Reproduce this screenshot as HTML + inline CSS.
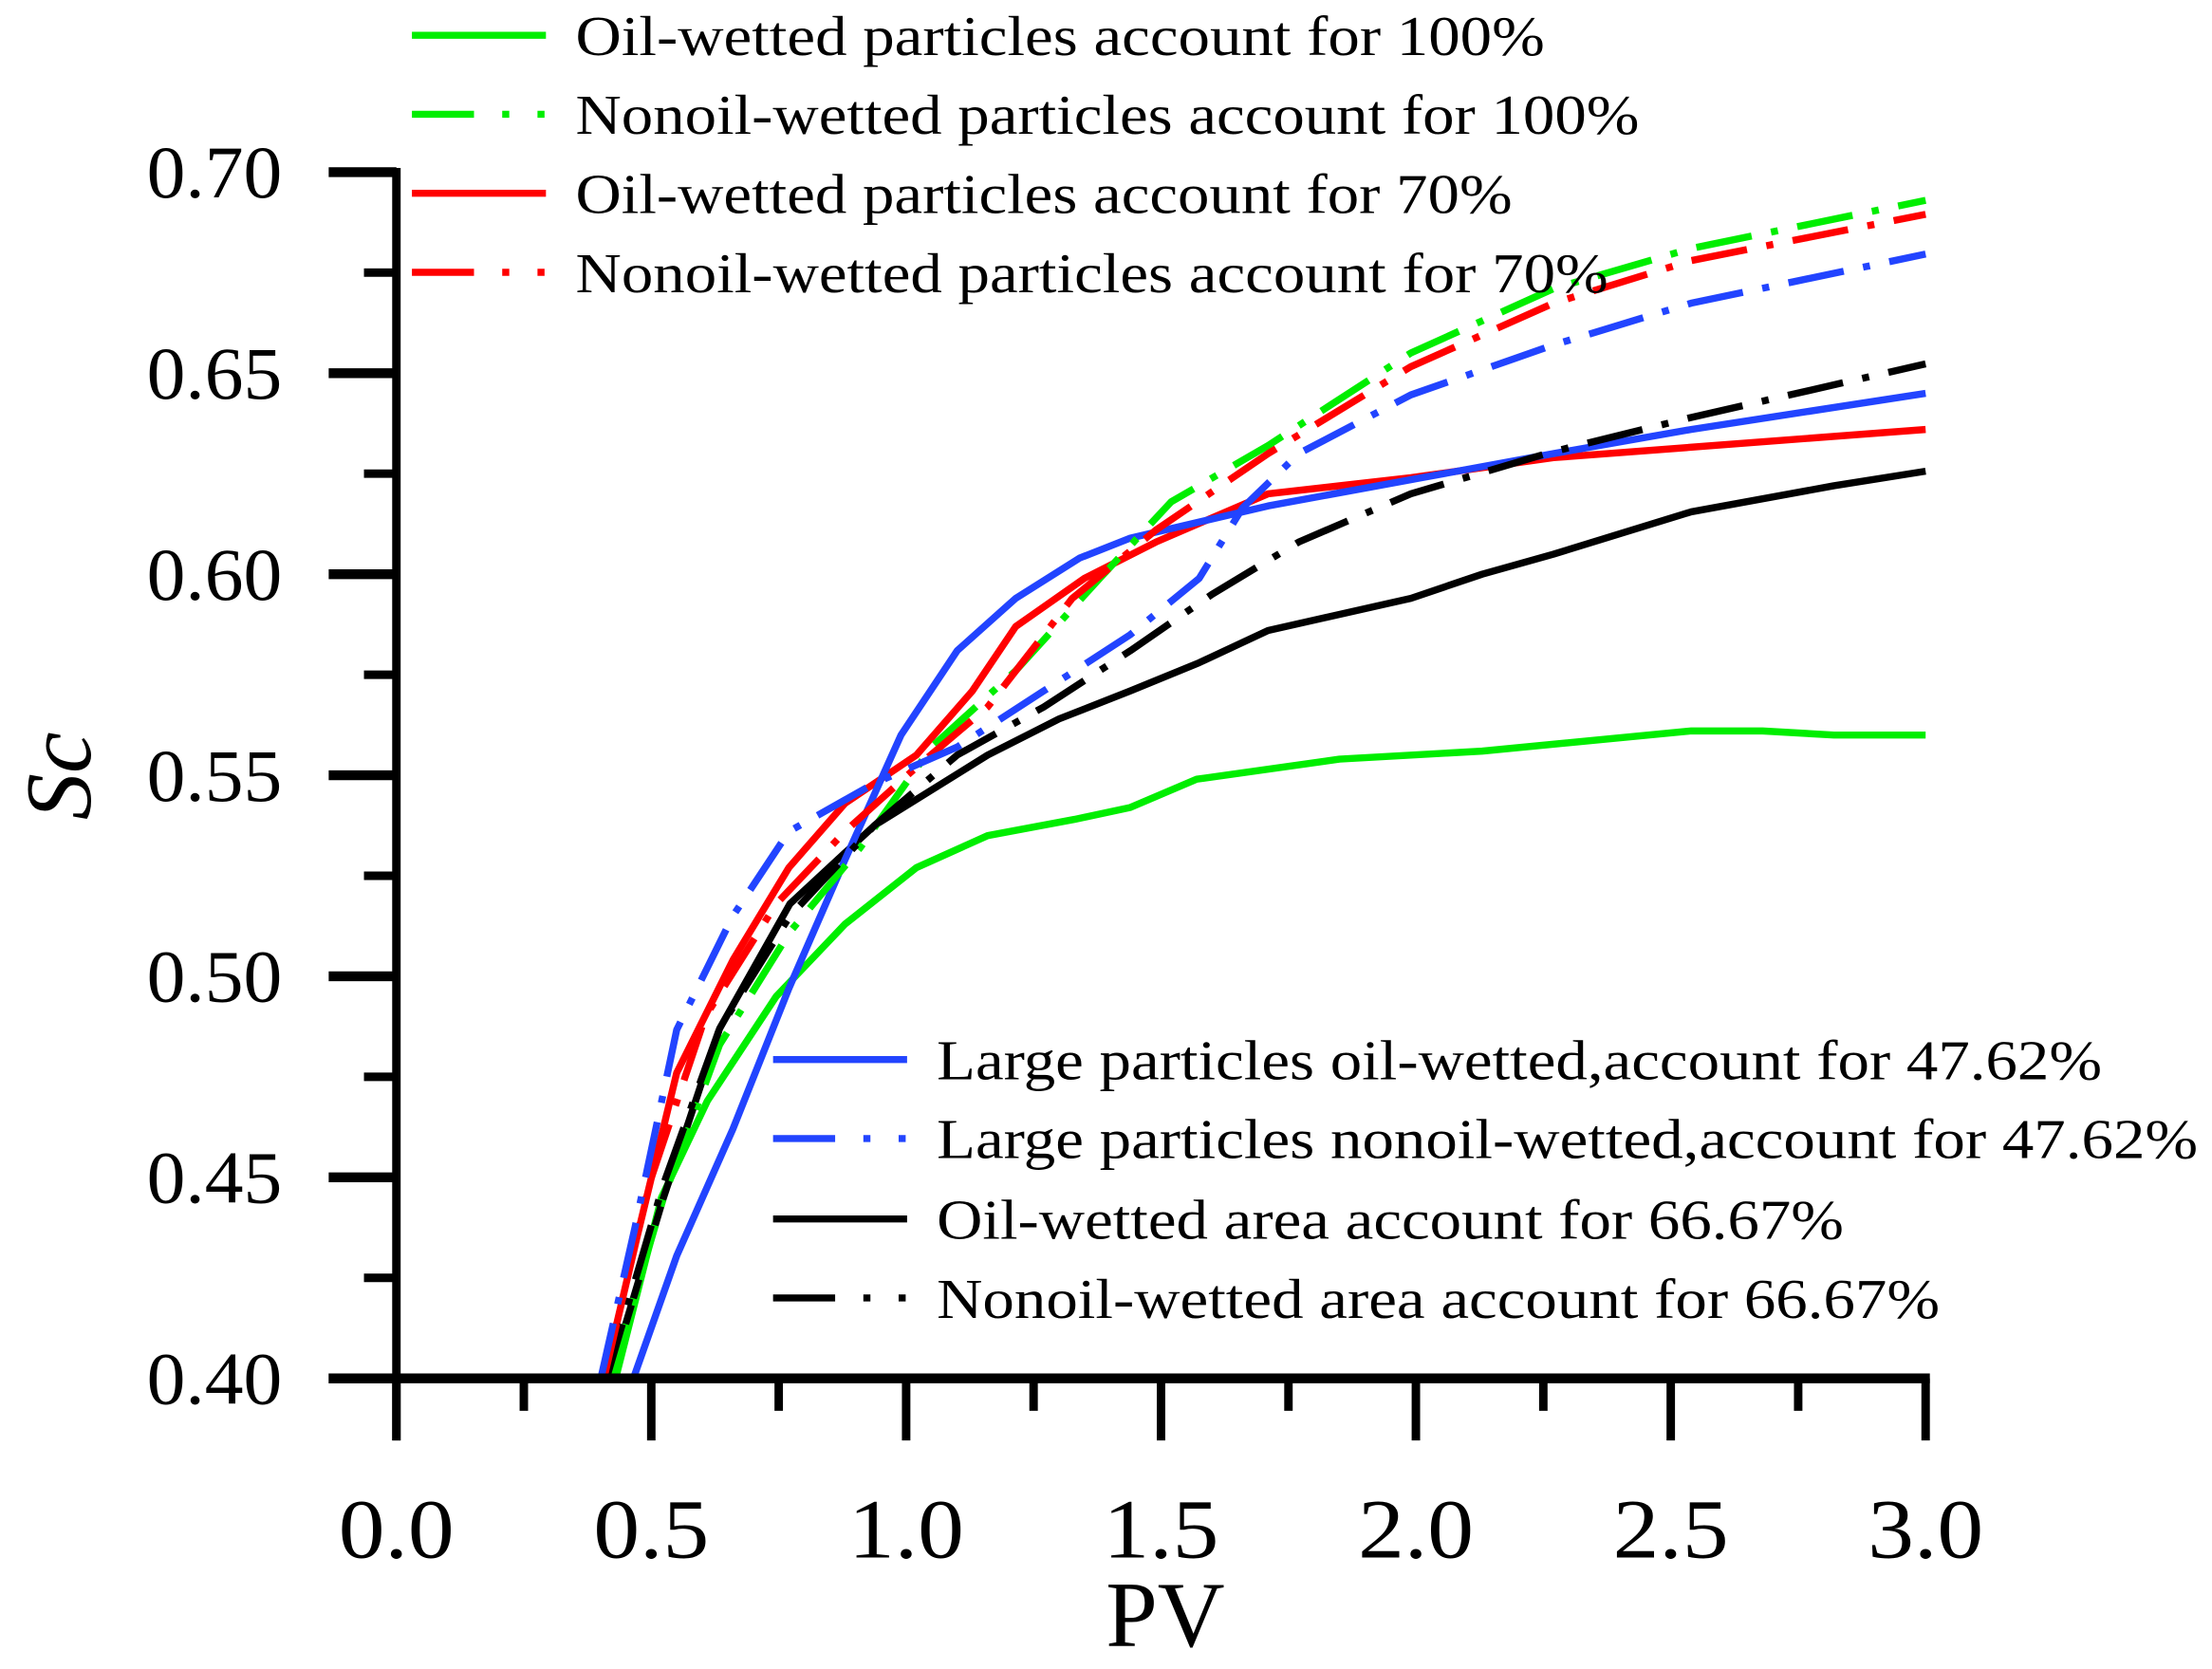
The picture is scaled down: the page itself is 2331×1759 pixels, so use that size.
<!DOCTYPE html>
<html><head><meta charset="utf-8"><style>
html,body{margin:0;padding:0;background:#fff}
svg{display:block}
text{font-family:"Liberation Serif",serif;fill:#000}
</style></head><body>
<svg id="chart" width="2331" height="1759" viewBox="0 0 1568 1183" preserveAspectRatio="none" xmlns="http://www.w3.org/2000/svg">
<defs><clipPath id="plotclip"><rect x="281" y="100" width="1100" height="877"/></clipPath></defs>
<g id="series" clip-path="url(#plotclip)"></g>
<g id="axes"></g>
<g id="legend"></g>
</svg>
<script>
const xTicks = [0.0, 0.5, 1.0, 1.5, 2.0, 2.5, 3.0];
const xTickLabels = ["0.0","0.5","1.0","1.5","2.0","2.5","3.0"];
const yTicks = [0.40, 0.45, 0.50, 0.55, 0.60, 0.65, 0.70];
const yTickLabels = ["0.40","0.45","0.50","0.55","0.60","0.65","0.70"];

const seriesNames = [
 "Oil-wetted particles account for 100%",
 "Nonoil-wetted particles account for 100%",
 "Oil-wetted particles account for 70%",
 "Nonoil-wetted particles account for 70%",
 "Large particles oil-wetted,account for 47.62%",
 "Large particles nonoil-wetted,account for 47.62%",
 "Oil-wetted area account for 66.67%",
 "Nonoil-wetted area account for 66.67%"
];
const greenSolidPV = [0.43,0.52,0.61,0.745,0.88,1.02,1.16,1.33,1.44,1.57,1.85,2.13,2.54,2.68,2.82,3.0];
const greenSolidSc = [0.40,0.445,0.469,0.495,0.513,0.527,0.535,0.539,0.542,0.549,0.554,0.556,0.561,0.561,0.560,0.560];
const greenDashPV = [0.42,0.523,0.634,0.772,0.91,1.05,1.215,1.38,1.52,1.71,1.99,2.27,2.54,3.0];
const greenDashSc = [0.40,0.4446,0.483,0.511,0.532,0.557,0.576,0.599,0.618,0.632,0.655,0.671,0.681,0.693];
const redSolidPV = [0.407,0.47,0.55,0.66,0.77,0.88,1.02,1.13,1.215,1.35,1.49,1.71,1.99,2.27,3.0];
const redSolidSc = [0.40,0.434,0.476,0.504,0.527,0.543,0.555,0.571,0.587,0.599,0.608,0.620,0.624,0.629,0.636];
const redDashPV = [0.407,0.495,0.606,0.745,0.88,1.02,1.16,1.326,1.49,1.71,1.99,2.27,2.54,3.0];
const redDashSc = [0.40,0.448,0.490,0.518,0.536,0.552,0.567,0.594,0.611,0.630,0.6516,0.6674,0.678,0.6895];
const blueSolidPV = [0.465,0.55,0.66,0.77,0.88,0.99,1.10,1.215,1.34,1.44,1.575,1.71,1.99,2.27,2.54,3.0];
const blueSolidSc = [0.40,0.4305,0.462,0.497,0.529,0.560,0.581,0.594,0.604,0.609,0.613,0.617,0.6235,0.630,0.636,0.645];
const blueDashPV = [0.401,0.468,0.55,0.66,0.77,0.938,1.10,1.27,1.44,1.575,1.66,1.77,1.99,2.27,2.54,3.0];
const blueDashSc = [0.40,0.4375,0.4867,0.515,0.536,0.548,0.557,0.571,0.585,0.599,0.6165,0.630,0.6446,0.657,0.6674,0.6796];
const blackSolidPV = [0.418,0.523,0.634,0.772,0.938,1.16,1.30,1.44,1.575,1.71,1.99,2.13,2.27,2.54,2.82,3.0];
const blackSolidSc = [0.40,0.4446,0.487,0.518,0.5375,0.555,0.564,0.571,0.578,0.586,0.594,0.600,0.605,0.6155,0.622,0.6256];
const blackDashPV = [0.412,0.523,0.634,0.772,0.938,1.10,1.27,1.44,1.60,1.77,1.99,2.27,2.54,3.0];
const blackDashSc = [0.40,0.448,0.487,0.515,0.5375,0.555,0.567,0.581,0.595,0.608,0.620,0.6305,0.639,0.6523];

const NS = "http://www.w3.org/2000/svg";
const X0 = 281, X1 = 1365, Y0 = 977, Y1 = 122;
function xs(v){ return X0 + (v - 0) / 3.0 * (X1 - X0); }
function ys(v){ return Y0 - (v - 0.40) / 0.30 * (Y0 - Y1); }
function mk(tag, attrs, parent){ const e = document.createElementNS(NS, tag); for (const k in attrs) e.setAttribute(k, attrs[k]); parent.appendChild(e); return e; }

const DASH = "40 14 5 14";
const styles = [
 {c:"#00ee00", d:null, pv:greenSolidPV, sc:greenSolidSc, n:"series-oil-100"},
 {c:"#00ee00", d:DASH, pv:greenDashPV, sc:greenDashSc, n:"series-nonoil-100"},
 {c:"#ff0000", d:null, pv:redSolidPV, sc:redSolidSc, n:"series-oil-70"},
 {c:"#ff0000", d:DASH, pv:redDashPV, sc:redDashSc, n:"series-nonoil-70"},
 {c:"#2244ff", d:null, pv:blueSolidPV, sc:blueSolidSc, n:"series-large-oil-47"},
 {c:"#2244ff", d:DASH, pv:blueDashPV, sc:blueDashSc, n:"series-large-nonoil-47"},
 {c:"#000000", d:null, pv:blackSolidPV, sc:blackSolidSc, n:"series-oil-area-66"},
 {c:"#000000", d:DASH, pv:blackDashPV, sc:blackDashSc, n:"series-nonoil-area-66"}
];
const sg = document.getElementById("series");
const order = [0,6,2,4,1,7,3,5];
order.forEach(i => {
  const s = styles[i];
  const pts = s.pv.map((p, j) => xs(p).toFixed(1) + "," + ys(s.sc[j]).toFixed(1)).join(" ");
  const a = {points: pts, fill: "none", stroke: s.c, "stroke-width": 5, "stroke-linejoin": "round"};
  if (s.d) a["stroke-dasharray"] = s.d;
  const el = mk("polyline", a, sg);
  
  
});

const ax = document.getElementById("axes");
let e;
e = mk("line", {x1: 233, y1: Y0, x2: 1368, y2: Y0, stroke: "#000", "stroke-width": 7}, ax);


e = mk("line", {x1: X0, y1: Y1 - 3, x2: X0, y2: 1021, stroke: "#000", "stroke-width": 6}, ax);


for (let k = 0; k <= 12; k++) {
  const v = k * 0.25, major = k % 2 === 0;
  e = mk("line", {x1: xs(v), y1: Y0, x2: xs(v), y2: major ? 1021 : 1000, stroke: "#000", "stroke-width": 6}, ax);
  
  
}
xTicks.forEach((v, i) => {
  e = mk("text", {x: xs(v) - 41, y: 1104, "font-size": 60, textLength: 82, lengthAdjust: "spacingAndGlyphs"}, ax);
  e.textContent = xTickLabels[i];
  
  
});
for (let k = 0; k <= 12; k++) {
  const v = 0.40 + k * 0.025, major = k % 2 === 0;
  e = mk("line", {x1: major ? 233 : 258, y1: ys(v), x2: X0, y2: ys(v), stroke: "#000", "stroke-width": major ? 7 : 6}, ax);
  
  
}
yTicks.forEach((v, i) => {
  e = mk("text", {x: 104, y: ys(v) + 18, "font-size": 53, textLength: 96, lengthAdjust: "spacingAndGlyphs"}, ax);
  e.textContent = yTickLabels[i];
  
  
});
e = mk("text", {x: 826, y: 1167, "font-size": 66, "text-anchor": "middle"}, ax);
e.textContent = "PV";


e = mk("text", {x: 0, y: 0, "font-size": 66, "font-style": "italic", "text-anchor": "middle", transform: "translate(64,550) rotate(-90)"}, ax);
e.textContent = "Sc";



const lg = document.getElementById("legend");
const legPos = [[292,25],[292,81],[292,137],[292,193],[548,751],[548,807],[548,864],[548,920]];
const legLen = [687,754,664,732,826,894,643,711];
styles.forEach((s, i) => {
  const [lx, ly] = legPos[i];
  const a = {x1: lx, y1: ly, x2: lx + 95, y2: ly, stroke: s.c, "stroke-width": 5};
  if (s.d) a["stroke-dasharray"] = "44 20 5 20 5 20";
  const g = mk("g", {}, lg);
  
  
  const l = mk("line", a, g);
  
  
  const t = mk("text", {x: lx + 116, y: ly + 14, "font-size": 40, textLength: legLen[i], lengthAdjust: "spacingAndGlyphs"}, g);
  t.textContent = seriesNames[i];
  
  
});
</script>
</body></html>
